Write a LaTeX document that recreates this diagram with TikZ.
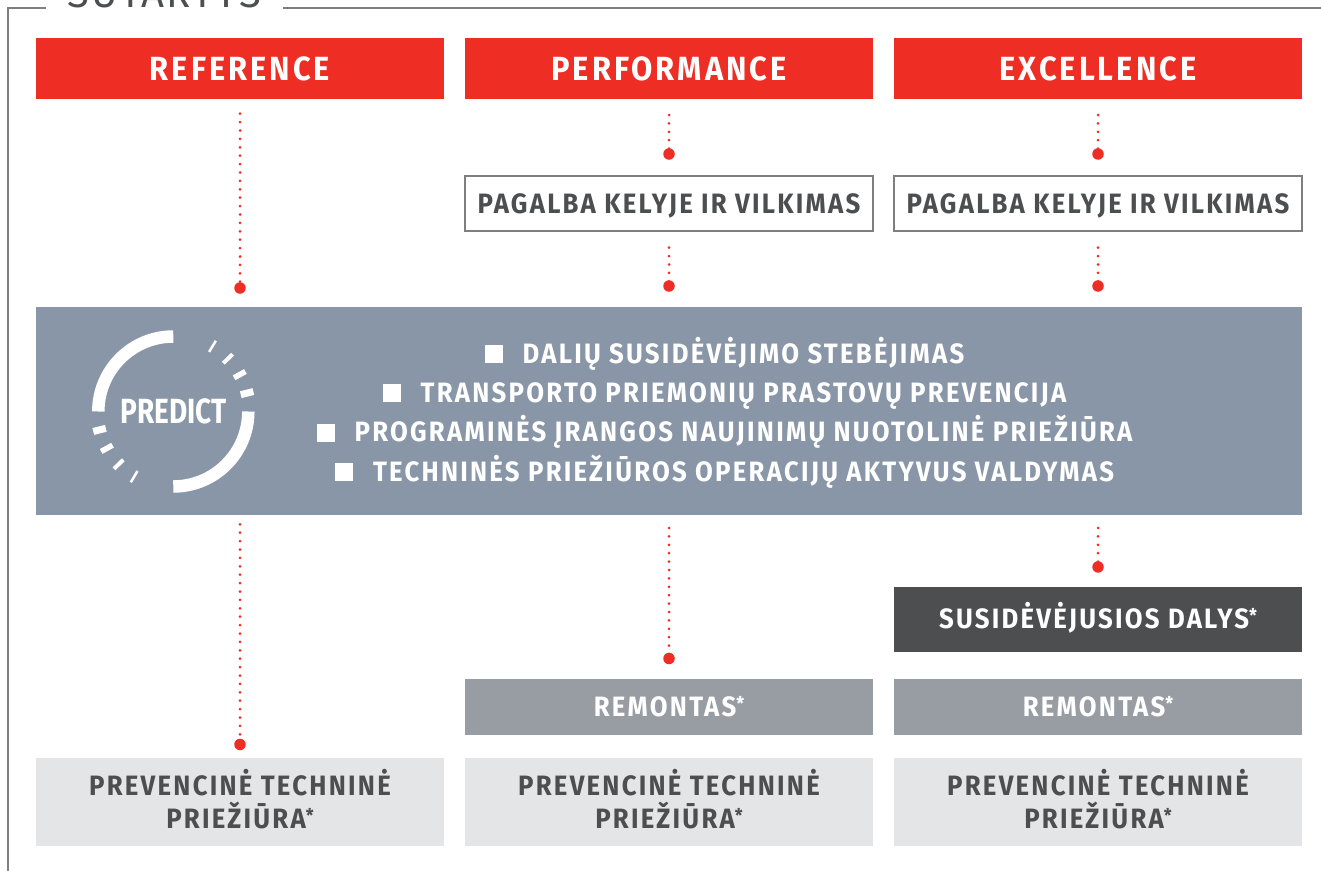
\documentclass[tikz,border=0pt]{standalone}
\usepackage{fontspec}
\setmainfont{Fira Sans}
\newfontfamily\dinfont{Fira Sans}[FakeStretch=0.92,LetterSpace=8]
\newfontfamily\hdrfont{Fira Sans}[FakeStretch=0.92,LetterSpace=9]
\newfontfamily\predfont{Fira Sans}[FakeStretch=0.8]
\newfontfamily\titlefont{Fira Sans}[LetterSpace=6]
\usetikzlibrary{calc}
\definecolor{mred}{HTML}{EE2E24}
\definecolor{bandc}{HTML}{8896A7}
\definecolor{darkc}{HTML}{4D4E50}
\definecolor{remc}{HTML}{979DA3}
\definecolor{lightc}{HTML}{E4E5E7}
\definecolor{txtgray}{HTML}{4D4E50}
\definecolor{framegray}{HTML}{7F7F7F}
\newcommand\astx{\raisebox{6pt}{\fontsize{19}{19}\selectfont *}}
\begin{document}
\begin{tikzpicture}[x=1pt,y=-1pt,
  box/.style={inner sep=0pt, outer sep=0pt, minimum width=408pt},
  hdr/.style={box, fill=mred, text=white, minimum height=61pt,
    font=\hdrfont\bfseries\fontsize{33.5}{33.5}\selectfont, text height=23pt, text depth=0pt},
  helpbox/.style={box, draw=framegray, line width=1.3pt, fill=white, minimum height=55pt,
    text=txtgray, font=\dinfont\bfseries\fontsize{28}{28}\selectfont, text height=19pt, text depth=0pt},
  bandbox/.style={inner sep=0pt, outer sep=0pt, fill=bandc, minimum width=1266pt, minimum height=208pt},
  darkbox/.style={box, fill=darkc, text=white, minimum height=64.7pt,
    font=\dinfont\bfseries\fontsize{28}{28}\selectfont, text height=19pt, text depth=0pt},
  rembox/.style={box, fill=remc, text=white, minimum height=56pt,
    font=\dinfont\bfseries\fontsize{28}{28}\selectfont, text height=19pt, text depth=0pt},
  prevbox/.style={box, fill=lightc, minimum height=88.5pt},
  prevtxt/.style={text=txtgray, font=\dinfont\bfseries\fontsize{28}{33}\selectfont,
    align=center, inner sep=0pt, anchor=base},
  bullets/.style={text=white, font=\dinfont\bfseries\fontsize{28}{39.3}\selectfont,
    align=center, inner sep=0pt, anchor=base},
  predtxt/.style={text=white, inner sep=0pt, font=\predfont\bfseries\fontsize{35}{35}\selectfont,
    text height=24pt, text depth=0pt},
  titletxt/.style={text=txtgray, inner sep=0pt, anchor=base, font=\titlefont\fontsize{40}{40}\selectfont},
  framel/.style={draw=framegray, line width=1.6pt},
  dotl/.style={draw=mred, line width=3pt, line cap=round, dash pattern=on 0pt off 8.4pt},
  bigdot/.style={circle, fill=mred, minimum size=11.5pt, inner sep=0pt},
  logoarc/.style={draw=white, line width=12.5pt}
]
\useasboundingbox (0,0) rectangle (1321,870);
\clip (0,0) rectangle (1321,870);

% frame and title
\node[titletxt] (title) at (164,7.5) {SUTARTYS};
\draw[framel] (46,8) -- (8,8) -- (8,872);
\draw[framel] (283,8) -- (1323,8);

% headers
\node[hdr] (ref)  at (240,68.5)  {REFERENCE};
\node[hdr] (perf) at (669,68.5)  {PERFORMANCE};
\node[hdr] (exc)  at (1098,68.5) {EXCELLENCE};

% road assistance
\node[helpbox] (help2) at (669,203.5)  {PAGALBA KELYJE IR VILKIMAS};
\node[helpbox] (help3) at (1098,203.5) {PAGALBA KELYJE IR VILKIMAS};

% predict band
\node[bandbox] (band) at (669,411) {};
\node[bullets] (list) at ($(band.center)+(55.5,70)$) {%
  \rule{18pt}{18pt}\hspace{20pt}DALIŲ SUSIDĖVĖJIMO STEBĖJIMAS\\
  \rule{18pt}{18pt}\hspace{20pt}TRANSPORTO PRIEMONIŲ PRASTOVŲ PREVENCIJA\\
  \rule{18pt}{18pt}\hspace{20pt}PROGRAMINĖS ĮRANGOS NAUJINIMŲ NUOTOLINĖ PRIEŽIŪRA\\
  \rule{18pt}{18pt}\hspace{20pt}TECHNINĖS PRIEŽIŪROS OPERACIJŲ AKTYVUS VALDYMAS};

% logo
\node[predtxt] (pred) at (173.3,411) {PREDICT};
\begin{scope}[shift={(173.3,411.5)}, yscale=-1]
  \draw[logoarc] (90:75) arc[start angle=90, end angle=180, radius=75];
  \draw[logoarc] (270:75) arc[start angle=270, end angle=360, radius=75];
  \foreach \a/\w in {14/7,29/5.5,44/4,59/2.5} {
    \draw[draw=white, line width=\w pt] (\a:69.5) -- (\a:82.5);
    \draw[draw=white, line width=\w pt] (\a+180:69.5) -- (\a+180:82.5);
  }
\end{scope}

% lower boxes
\node[darkbox] (sus)  at (1098,619.3) {SUSIDĖVĖJUSIOS DALYS\astx};
\node[rembox]  (rem2) at (669,706.5)  {REMONTAS\astx};
\node[rembox]  (rem3) at (1098,706.5) {REMONTAS\astx};
\node[prevbox] (pv1) at (240,802)  {};
\node[prevbox] (pv2) at (669,802)  {};
\node[prevbox] (pv3) at (1098,802) {};
\node[prevtxt] (pt1) at ($(pv1.center)+(0,26)$) {PREVENCINĖ TECHNINĖ\\PRIEŽIŪRA\astx};
\node[prevtxt] (pt2) at ($(pv2.center)+(0,26)$) {PREVENCINĖ TECHNINĖ\\PRIEŽIŪRA\astx};
\node[prevtxt] (pt3) at ($(pv3.center)+(0,26)$) {PREVENCINĖ TECHNINĖ\\PRIEŽIŪRA\astx};

% connectors
\draw[dotl] ($(ref.south)+(0,14.7)$) -- ($(band.north -| ref.south)+(0,-19)$) node[bigdot]{};
\draw[dotl] ($(perf.south)+(0,16)$) -- ($(help2.north)+(0,-22)$) node[bigdot]{};
\draw[dotl] ($(exc.south)+(0,16)$) -- ($(help3.north)+(0,-22)$) node[bigdot]{};
\draw[dotl] ($(help2.south)+(0,16.7)$) -- ($(band.north -| help2.south)+(0,-21)$) node[bigdot]{};
\draw[dotl] ($(help3.south)+(0,16.7)$) -- ($(band.north -| help3.south)+(0,-21)$) node[bigdot]{};
\draw[dotl] ($(band.south -| ref.south)+(0,9.3)$) -- ($(pv1.north)+(0,-13.3)$) node[bigdot]{};
\draw[dotl] ($(band.south -| perf.south)+(0,13)$) -- ($(rem2.north)+(0,-20)$) node[bigdot]{};
\draw[dotl] ($(band.south -| exc.south)+(0,13)$) -- ($(sus.north)+(0,-20)$) node[bigdot]{};
\end{tikzpicture}
\end{document}
